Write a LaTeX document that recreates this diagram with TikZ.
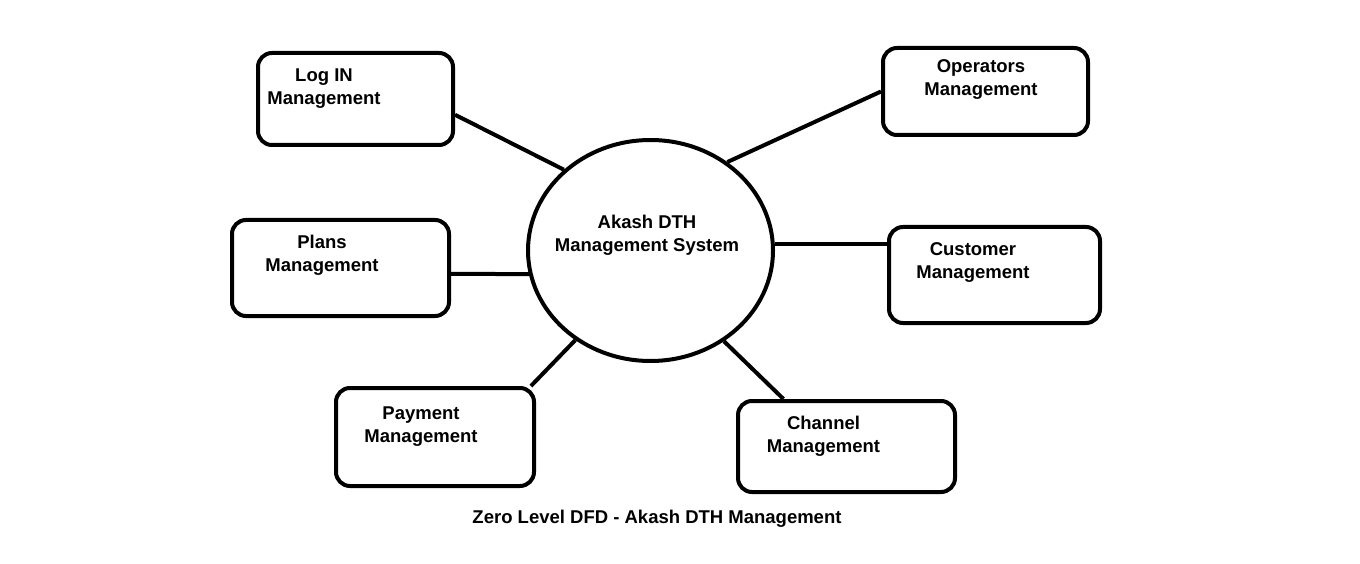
\documentclass[tikz,border=0pt]{standalone}
\usepackage{fontspec}
\setmainfont{Liberation Sans}
\usetikzlibrary{shapes.geometric}

\begin{document}
\begin{tikzpicture}[x=1pt, y=-1pt,
    box/.style={draw, line width=4pt, rounded corners=14pt, inner sep=0pt},
    txt/.style={align=center, inner sep=0pt, font=\fontsize{18.5}{23}\selectfont\bfseries},
    link/.style={line width=4pt}]
    \useasboundingbox (0,0) rectangle (1360,564);

    \node[draw, ellipse, line width=4pt, minimum width=245pt, minimum height=221pt, inner sep=0pt] (sys) at (650.5,250.5) {};
    \node[txt] (systxt) at (647,235.5) {Akash DTH\\Management System};

    \node[box, minimum width=195pt, minimum height=92pt] (login) at (355.5,99) {};
    \node[txt] (logintxt) at (324,89) {Log IN\\Management};

    \node[box, minimum width=217pt, minimum height=96pt] (plans) at (340.5,268) {};
    \node[txt] (planstxt) at (322,255) {Plans\\Management};

    \node[box, minimum width=198pt, minimum height=98pt] (pay) at (435,437) {};
    \node[txt] (paytxt) at (421,427) {Payment\\Management};

    \node[box, minimum width=205pt, minimum height=87pt] (oper) at (985.5,91.5) {};
    \node[txt] (opertxt) at (981,80) {Operators\\Management};

    \node[box, minimum width=211pt, minimum height=96pt] (cust) at (994.5,275) {};
    \node[txt] (custtxt) at (973,263) {Customer\\Management};

    \node[box, minimum width=217pt, minimum height=91pt] (chan) at (846.5,446.5) {};
    \node[txt] (chantxt) at (823.5,436) {Channel\\Management};

    \draw[link] (login.-9) -- (sys.137);
    \draw[link] (plans.-3) -- (sys.191);
    \draw[link] (pay.28.5) -- (sys.230);
    \draw[link] (oper.west) -- (sys.49);
    \draw[link] (sys.3) -- (sys.3 -| cust.west);
    \draw[link] (chan.143) -- (sys.-51);

    \node[txt, anchor=base] (title) at (657,523.5) {Zero Level DFD - Akash DTH Management};
  \end{tikzpicture}
\end{document}
